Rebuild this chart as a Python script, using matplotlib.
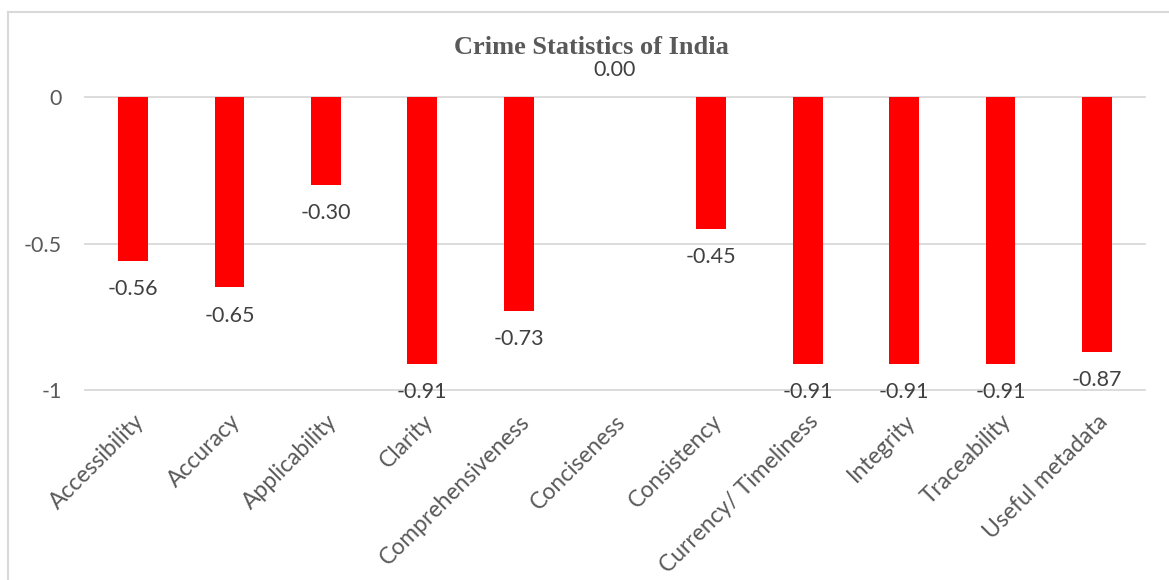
import matplotlib
matplotlib.use("Agg")
import matplotlib.pyplot as plt
from matplotlib.lines import Line2D

categories = ["Accessibility", "Accuracy", "Applicability", "Clarity",
              "Comprehensiveness", "Conciseness", "Consistency",
              "Currency/ Timeliness", "Integrity", "Traceability",
              "Useful metadata"]
values = [-0.56, -0.65, -0.30, -0.91, -0.73, 0.00, -0.45,
          -0.91, -0.91, -0.91, -0.87]
yticks = [0, -0.5, -1]
ytick_labels = ["0", "-0.5", "-1"]
title = "Crime Statistics of India"

plt.rcParams["font.family"] = ["Lato", "DejaVu Sans"]

fig = plt.figure(figsize=(11.69, 5.80), dpi=100)
ax = fig.add_axes([85 / 1169, 1 - 390 / 580, (1145 - 85) / 1169, (390 - 97) / 580])

x = list(range(len(categories)))
ax.bar(x, values, width=0.31, color="#ff0000", edgecolor="none", zorder=3)

ax.set_xlim(-0.5, len(categories) - 0.5)
ax.set_ylim(-1, 0)
ax.set_yticks(yticks)
ax.set_yticklabels(ytick_labels)
for y in yticks:
    ax.axhline(y, color="#d9d9d9", linewidth=1.3, zorder=1, clip_on=False)

for s in ax.spines.values():
    s.set_visible(False)
ax.tick_params(axis="y", length=0, pad=16.5, labelsize=15.5, labelcolor="#595959")
ax.tick_params(axis="x", length=0, pad=15, labelsize=16.5, labelcolor="#595959")
ax.set_xticks(x)
ax.set_xticklabels(categories, rotation=45, ha="right", rotation_mode="anchor")

for xi, v in zip(x, values):
    if v < 0:
        ax.annotate(f"{v:.2f}", (xi, v), xytext=(0, -13), textcoords="offset points",
                    ha="center", va="top", fontsize=15.5, color="#404040",
                    annotation_clip=False, zorder=4)
    else:
        ax.annotate(f"{v:.2f}", (xi, v), xytext=(0, 12), textcoords="offset points",
                    ha="center", va="bottom", fontsize=15.5, color="#404040",
                    annotation_clip=False, zorder=4)

fig.text(591 / 1169, 1 - 48 / 580, title, ha="center", va="center",
         fontsize=19, fontweight="bold", color="#595959",
         family=["Liberation Serif", "DejaVu Serif"])

# chart frame: left and top edges
fig.add_artist(Line2D([8 / 1169, 8 / 1169], [0, 1 - 12 / 580],
                      transform=fig.transFigure, color="#d9d9d9", linewidth=1.5))
fig.add_artist(Line2D([8 / 1169, 1], [1 - 12 / 580, 1 - 12 / 580],
                      transform=fig.transFigure, color="#d9d9d9", linewidth=1.5))

fig.savefig("out.png", dpi=100, facecolor="white")
